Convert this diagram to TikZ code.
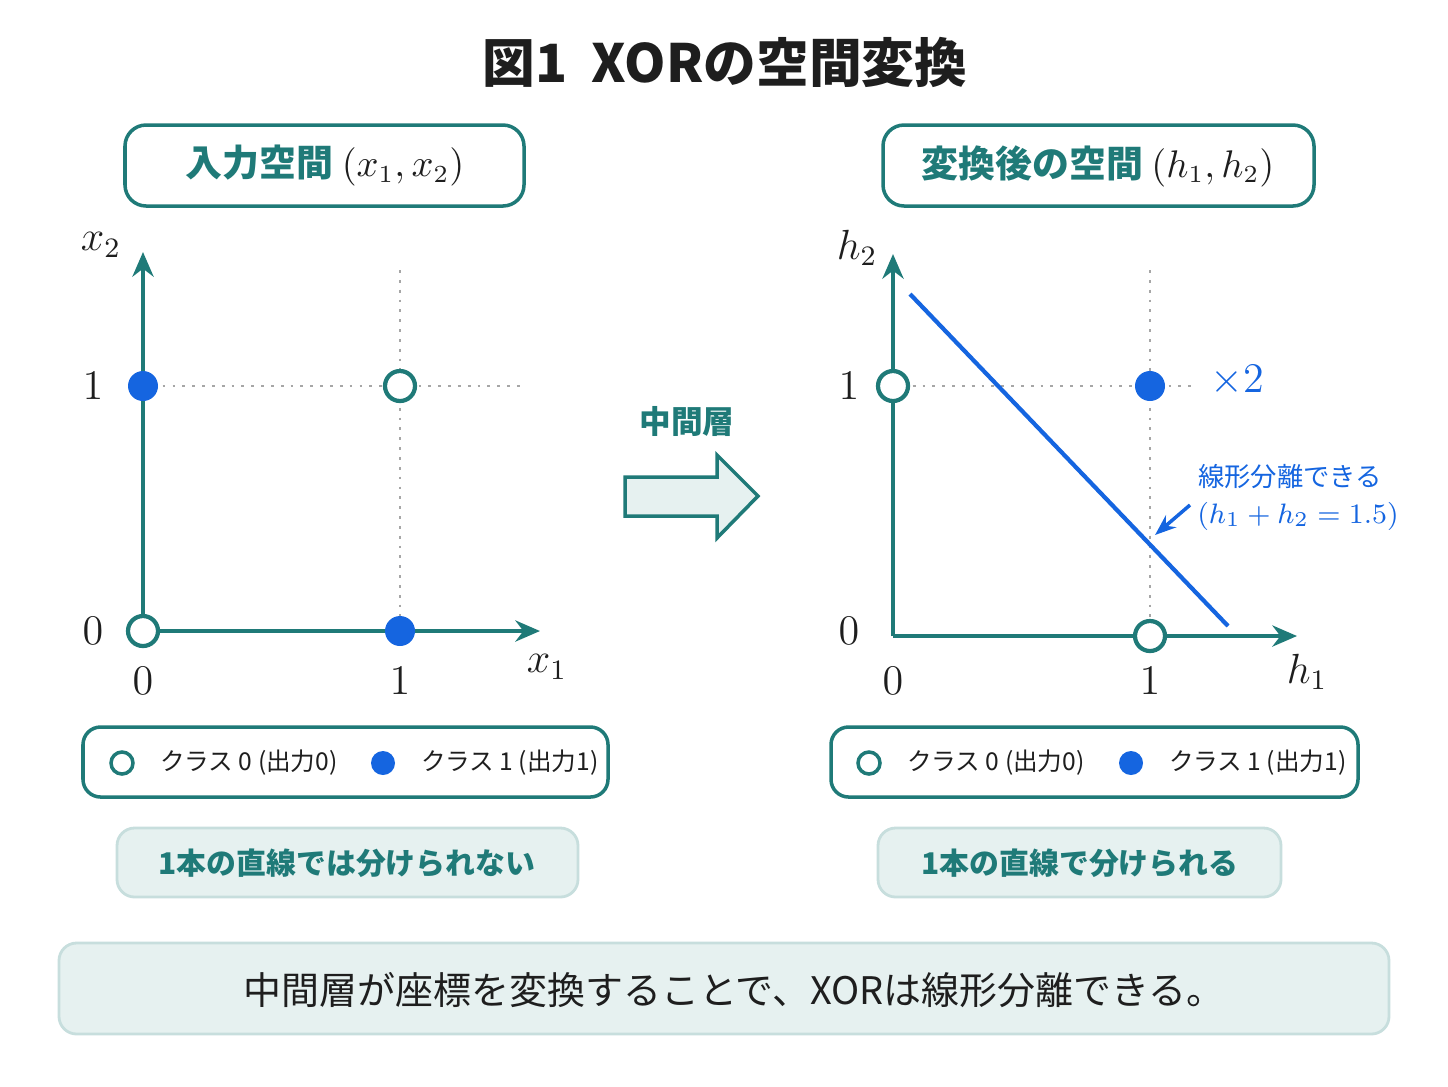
\documentclass[tikz,border=0pt]{standalone}
\usepackage{amsmath}
\usepackage{fontspec}
\setmainfont{Noto Sans CJK JP}
\usetikzlibrary{calc,positioning,arrows.meta}
\definecolor{teal}{RGB}{ 31, 122, 120 }
\definecolor{dotblue}{RGB}{ 21, 101, 224 }
\definecolor{paleteal}{RGB}{ 230, 241, 240 }
\definecolor{darktext}{RGB}{ 30, 30, 30 }

\begin{document}
\begin{tikzpicture}[x=0.1mm,y=-0.1mm,font=\fontsize{8.5pt}{10pt}\selectfont,text=darktext]
\tikzstyle{head box}=[draw=teal,line width=1pt,rounded corners=6pt]
\tikzstyle{legend box}=[draw=teal,line width=1pt,rounded corners=5pt]
\tikzstyle{note box}=[draw=teal!25,fill=paleteal,line width=0.8pt,rounded corners=5pt]
\tikzstyle{axis}=[draw=teal,line width=1.2pt,-{Stealth[length=7pt,width=6pt]}]
\tikzstyle{grid line}=[gray!70,dotted,line width=0.8pt]
\tikzstyle{open pt}=[circle,draw=teal,fill=white,line width=1.2pt,inner sep=0,minimum size=3mm]
\tikzstyle{full pt}=[circle,fill=dotblue,inner sep=0,minimum size=3mm]
\tikzstyle{small open}=[circle,draw=teal,fill=white,line width=1pt,inner sep=0,minimum size=2.2mm]
\tikzstyle{small full}=[circle,fill=dotblue,inner sep=0,minimum size=2.4mm]
\tikzstyle{legend text}=[font=\fontsize{7pt}{8pt}\selectfont,inner sep=0]

\useasboundingbox (0,0) rectangle (1448,1086);

% title
\node (title) at (725,62) {\fontsize{15pt}{17pt}\selectfont\bfseries 図1\ \ XORの空間変換};

% ---------------- left: input space
\draw[head box] (125,125) rectangle (524,206);
\node[text=teal,font=\fontsize{10.5pt}{12pt}\selectfont\bfseries] (inhead) at (325,166) {入力空間 \textcolor{darktext}{$(x_1,x_2)$}};

\coordinate (o1) at (143,631);
\coordinate (xend1) at (540,631);
\coordinate (yend1) at (143,252);
\draw[grid line] (143,386) -- (525,386);
\draw[grid line] (400,270) -- (400,631);
\draw[axis] (o1) -- (xend1);
\draw[axis] (o1) -- (yend1);
\node[open pt] (p00) at (143,631) {};
\node[full pt] (p01) at (143,386) {};
\node[open pt] (p11) at (400,386) {};
\node[full pt] (p10) at (400,631) {};
\node (lx2) at (101,245) {\large $x_2$};
\node (ly1) at (93,386) {\large $1$};
\node (ly0) at (93,631) {\large $0$};
\node (lx0) at (143,681) {\large $0$};
\node (lx1) at (400,681) {\large $1$};
\node (lx1n) at (547,667) {\large $x_1$};

\draw[legend box] (83,727) rectangle (608,797);
\node[small open] (lgo1) at (122,763) {};
\node[legend text,right=7pt of lgo1] (lgot1) {クラス 0 (出力0)};
\node[small full] (lgf1) at (383,763) {};
\node[legend text,right=7pt of lgf1] (lgft1) {クラス 1 (出力1)};

\draw[note box] (117,828) rectangle (578,897);
\node[text=teal,font=\fontsize{8.5pt}{10pt}\selectfont\bfseries] (noteL) at (347,863) {1本の直線では分けられない};

% ---------------- middle arrow
\node[text=teal,font=\fontsize{9pt}{10pt}\selectfont\bfseries] (mid) at (687,421) {中間層};
\draw[draw=teal,fill=paleteal,line width=1pt] (625,477) -- (717,477) -- (717,455) -- (758,496) -- (717,538) -- (717,516) -- (625,516) -- cycle;

% ---------------- right: hidden space
\draw[head box] (883,125) rectangle (1314,206);
\node[text=teal,font=\fontsize{10.5pt}{12pt}\selectfont\bfseries] (hhead) at (1098,166) {変換後の空間 \textcolor{darktext}{$(h_1,h_2)$}};

\coordinate (o2) at (893,636);
\coordinate (xend2) at (1297,636);
\coordinate (yend2) at (893,254);
\draw[grid line] (893,386) -- (1195,386);
\draw[grid line] (1150,270) -- (1150,636);
\draw[axis] (o2) -- (xend2);
\draw[axis] (o2) -- (yend2);
\coordinate (sepA) at (910,294);
\coordinate (sepB) at (1228,626);
\draw[dotblue,line width=1.2pt] (sepA) -- (sepB);
\node[open pt] (q01) at (893,386) {};
\node[full pt] (q11) at (1150,386) {};
\node[open pt] (q10) at (1150,636) {};
\node[text=dotblue] (times2) at (1237,381) {\large $\times 2$};
\node (lh2) at (857,248) {\large $h_2$};
\node (lq1) at (849,386) {\large $1$};
\node (lq0) at (849,631) {\large $0$};
\node (lh0) at (893,681) {\large $0$};
\node (lh1) at (1150,681) {\large $1$};
\node (lh1n) at (1307,672) {\large $h_1$};
\node[text=dotblue,font=\fontsize{7.5pt}{9pt}\selectfont] (sepnote) at (1290,477) {線形分離できる};
\node[text=dotblue] (sepeq) at (1298,516) {$(h_1+h_2=1.5)$};
\coordinate (sepat) at (1155,535);
\draw[dotblue,line width=1pt,-{Stealth[length=6pt]}] (1190,505) -- (sepat);

\draw[legend box] (831,727) rectangle (1358,797);
\node[small open] (lgo2) at (869,763) {};
\node[legend text,right=7pt of lgo2] (lgot2) {クラス 0 (出力0)};
\node[small full] (lgf2) at (1131,763) {};
\node[legend text,right=7pt of lgf2] (lgft2) {クラス 1 (出力1)};

\draw[note box] (878,828) rectangle (1281,897);
\node[text=teal,font=\fontsize{8.5pt}{10pt}\selectfont\bfseries] (noteR) at (1080,863) {1本の直線で分けられる};

% ---------------- footer
\draw[note box] (59,943) rectangle (1389,1034);
\node[font=\fontsize{10.8pt}{12pt}\selectfont] (foot) at (734,990) {中間層が座標を変換することで、XORは線形分離できる。};
\end{tikzpicture}
\end{document}
